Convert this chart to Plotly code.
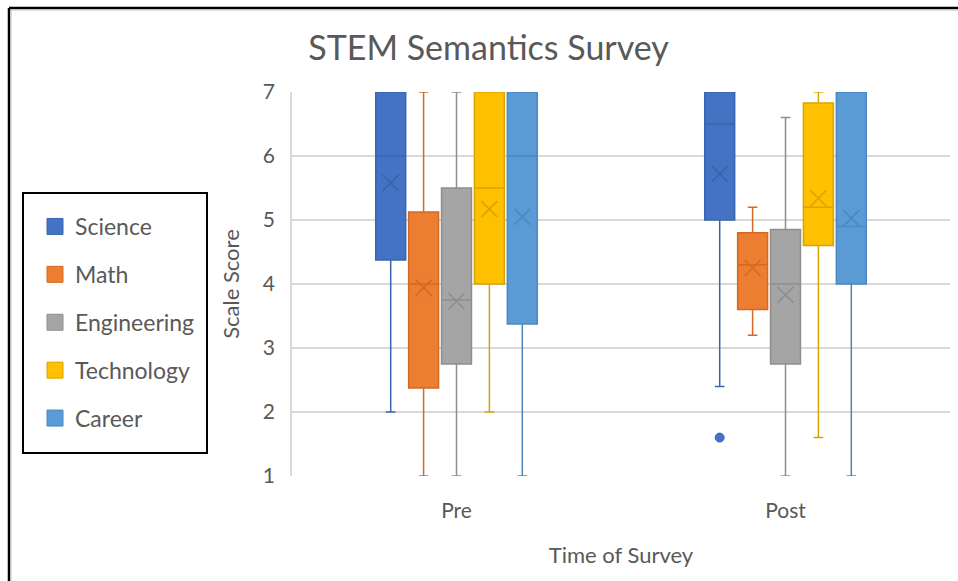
import plotly.graph_objects as go

# Survey timepoints and subject scales
times = ["Pre", "Post"]
subjects = ["Science", "Math", "Engineering", "Technology", "Career"]

# Box statistics per subject (rows) for Pre / Post (columns)
lower_whisker = [[2.0, 2.4], [1.0, 3.2], [1.0, 1.0], [2.0, 1.6], [1.0, 1.0]]
q1 = [[4.375, 5.0], [2.375, 3.6], [2.75, 2.75], [4.0, 4.6], [3.375, 4.0]]
median = [[6.0, 6.5], [4.0, 4.3], [3.75, 4.0], [5.5, 5.2], [6.0, 4.9]]
q3 = [[7.0, 7.0], [5.125, 4.8], [5.5, 4.85], [7.0, 6.83], [7.0, 7.0]]
upper_whisker = [[7.0, 7.0], [7.0, 5.2], [7.0, 6.6], [7.0, 7.0], [7.0, 7.0]]
mean = [[5.58, 5.72], [3.94, 4.25], [3.73, 3.83], [5.17, 5.34], [5.05, 5.03]]

# Outlying responses: (subject, time, value)
outliers = [("Science", "Post", 1.6)]

fill_colors = ["#4472C4", "#ED7D31", "#A5A5A5", "#FFC000", "#5B9BD5"]
edge_colors = ["#3A64AE", "#D26A24", "#8E8E8E", "#D9A400", "#4C88BE"]

TEXT = "#595959"
GRID = "#D9D9D9"
FONT = "Lato, 'Open Sans', sans-serif"

slot = 0.1        # spacing between neighbouring boxes, in category units
box_w = 0.091     # box width, in category units

# plot-area geometry in pixels, used to place items outside the axes
PL, PR, PT, PB = 292, 950, 92, 476


def px_x(p):
    return (p - PL) / (PR - PL)


def px_y(p):
    return (PB - p) / (PB - PT)


fig = go.Figure()

for i, name in enumerate(subjects):
    xs = [t + (i - 2) * slot for t in range(len(times))]
    fig.add_trace(go.Box(
        x=xs,
        lowerfence=lower_whisker[i],
        q1=q1[i],
        median=median[i],
        q3=q3[i],
        upperfence=upper_whisker[i],
        width=box_w,
        fillcolor=fill_colors[i],
        line=dict(color=edge_colors[i], width=1.5),
        whiskerwidth=0.32,
        boxpoints=False,
        showlegend=False,
        hoverinfo="skip",
    ))
    # mean marker
    fig.add_trace(go.Scatter(
        x=xs,
        y=mean[i],
        mode="markers",
        marker=dict(symbol="x-thin-open", size=16, color=edge_colors[i],
                    line=dict(color=edge_colors[i], width=1.6)),
        showlegend=False,
        hoverinfo="skip",
    ))
    # legend swatch
    fig.add_trace(go.Scatter(
        x=[None], y=[None],
        mode="markers",
        name=name,
        legendgroup=name,
        marker=dict(symbol="square", size=16, color=fill_colors[i],
                    line=dict(color=edge_colors[i], width=1)),
    ))

for subj, t, val in outliers:
    i = subjects.index(subj)
    fig.add_trace(go.Scatter(
        x=[times.index(t) + (i - 2) * slot],
        y=[val],
        mode="markers",
        marker=dict(symbol="circle", size=9, color=fill_colors[i],
                    line=dict(color=edge_colors[i], width=1)),
        showlegend=False,
        hoverinfo="skip",
    ))

# Outer chart frame (left and top edges) with a faint inner rule
fig.add_shape(type="line", xref="paper", yref="paper",
              x0=px_x(9), x1=px_x(9), y0=px_y(581), y1=px_y(8),
              line=dict(color="black", width=2.5))
fig.add_shape(type="line", xref="paper", yref="paper",
              x0=px_x(9), x1=px_x(958), y0=px_y(8), y1=px_y(8),
              line=dict(color="black", width=2.5))
fig.add_shape(type="line", xref="paper", yref="paper",
              x0=px_x(11), x1=px_x(11), y0=px_y(581), y1=px_y(10),
              line=dict(color="#BFBFBF", width=1))
fig.add_shape(type="line", xref="paper", yref="paper",
              x0=px_x(11), x1=px_x(958), y0=px_y(10), y1=px_y(10),
              line=dict(color="#BFBFBF", width=1))

# Legend frame
fig.add_shape(type="rect", xref="paper", yref="paper", layer="below",
              x0=px_x(23), x1=px_x(207), y0=px_y(453), y1=px_y(193),
              line=dict(color="black", width=2), fillcolor="white")

fig.update_layout(
    width=958,
    height=581,
    margin=dict(l=PL, r=958 - PR, t=PT, b=581 - PB),
    paper_bgcolor="white",
    plot_bgcolor="white",
    font=dict(family=FONT, color=TEXT, size=20),
    title=dict(text="STEM Semantics Survey", x=0.51, xref="container",
               xanchor="center", y=0.918, yanchor="middle",
               font=dict(size=34, color=TEXT, family=FONT)),
    xaxis=dict(
        range=[-0.5, 1.5],
        tickvals=list(range(len(times))),
        ticktext=times,
        showgrid=False,
        zeroline=False,
        showline=False,
        ticks="",
        ticklabelstandoff=20,
        tickfont=dict(size=21, color=TEXT),
        title=dict(text="Time of Survey", font=dict(size=22, color=TEXT),
                   standoff=26),
    ),
    yaxis=dict(
        range=[1, 7],
        dtick=1,
        showgrid=True,
        gridcolor=GRID,
        gridwidth=1.5,
        zeroline=False,
        showline=True,
        linecolor=GRID,
        linewidth=1.5,
        ticks="",
        ticklabelstandoff=11,
        tickfont=dict(size=21, color=TEXT),
        title=dict(text="Scale Score", font=dict(size=22, color=TEXT),
                   standoff=17),
    ),
    legend=dict(
        x=px_x(35),
        y=px_y(205),
        xanchor="left",
        yanchor="top",
        bgcolor="rgba(0,0,0,0)",
        borderwidth=0,
        font=dict(size=23, color=TEXT, family=FONT),
        tracegroupgap=15,
        itemwidth=30,
    ),
)

fig.write_html("out.html")
